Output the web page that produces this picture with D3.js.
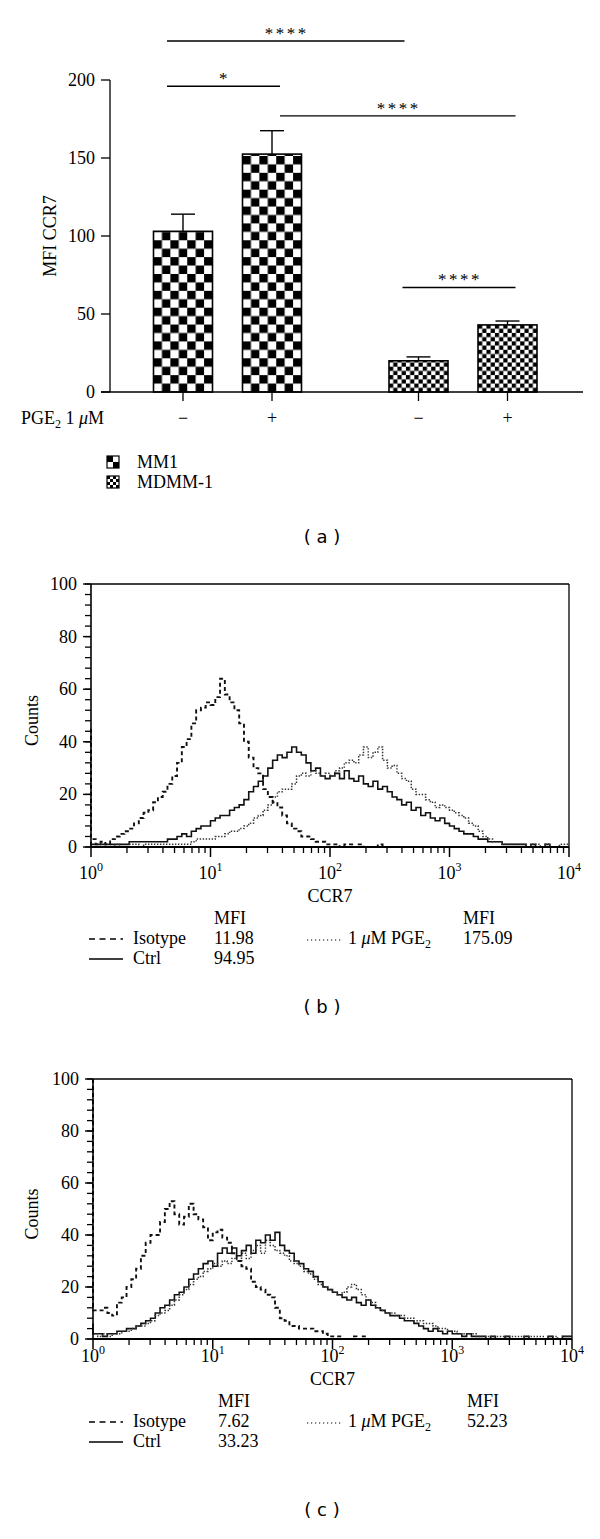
<!DOCTYPE html>
<html><head><meta charset="utf-8">
<script src="https://cdn.jsdelivr.net/npm/d3@7"></script>
<style>
body{margin:0;background:#fff}
text{font-family:"Liberation Serif","Times New Roman",serif;fill:#000}
.sans{font-family:"DejaVu Sans","Liberation Sans",sans-serif}
</style>
</head><body>
<svg id="chart" width="600" height="1539"></svg>
<script>
// ---------------- DATA ----------------
// Panel (a)
const barGroups = ["MM1", "MM1", "MDMM-1", "MDMM-1"];
const pgeLabels = ["−", "+", "−", "+"];
const barMeans = [103, 152.5, 20, 43];
const barErrors = [11, 15, 2.5, 2.5];
const barTicks = [0, 50, 100, 150, 200];
const legendGroups = ["MM1", "MDMM-1"];
// significance brackets: [from bar, to bar, label, level (MFI units)]
const sigFrom = [0, 0, 1, 2];
const sigTo = [2, 1, 3, 3];
const sigText = ["****", "*", "****", "****"];
const sigLevel = [225, 196, 177, 67];

// Panels (b) and (c): histogram channels, in decades of CCR7 (10^0 .. 10^4)
const decadeTicks = [0, 1, 2, 3, 4];
const countTicks = [0, 20, 40, 60, 80, 100];
const histLegendNames = ["Isotype", "Ctrl", "1 µM PGE2"];
const mfiB = ["11.98", "94.95", "175.09"];
const mfiC = ["7.62", "33.23", "52.23"];

const isoB = [45,3,1,2,1,3,4,5,6,7,9,11,13,14,17,19,21,24,27,32,38,41,47,52,53,55,54,57,64,58,55,52,47,40,34,30,28,22,19,17,15,12,9,7,6,4,4,3,2,2,1,1,1,0,1,1,0,1,0,0,0,1,0,0,0,0,0,0,0,0,0,0,0,0,0,0,0,0,0,0,0,0,0,0,0,0,0,0,0,0,0,0,0,0,0,0,0,0,0,0,0];
const ctrlB = [2,1,1,1,1,1,1,1,1,2,2,2,2,2,2,2,2,3,3,4,5,4,6,7,8,8,10,11,12,12,14,15,16,18,21,23,25,27,30,33,35,34,36,38,36,35,32,29,30,27,26,27,28,26,29,26,25,27,24,23,25,22,23,21,19,18,16,17,14,15,12,13,11,10,11,9,8,7,6,5,5,4,3,3,2,2,2,1,1,1,1,1,0,1,0,0,1,0,0,0,0];
const pgeB = [1,0,0,1,0,0,1,0,0,1,1,0,1,1,1,1,1,1,1,1,1,1,2,3,3,3,3,4,4,5,6,6,7,8,9,11,12,14,16,19,21,22,22,24,27,28,27,29,28,27,28,27,29,30,32,33,32,35,38,34,36,38,33,30,31,28,26,25,22,20,20,18,17,15,16,15,14,13,12,11,9,8,6,4,3,2,2,1,1,1,1,1,0,1,1,0,1,0,0,1,1];

const isoC = [100,11,11,12,10,9,14,16,20,23,27,32,37,40,40,45,50,53,48,44,47,52,48,46,43,38,41,42,39,37,33,30,28,27,22,20,19,17,16,12,8,7,5,5,4,4,4,3,3,2,1,1,1,0,0,1,0,1,0,0,0,0,0,0,0,0,0,0,0,0,0,0,0,0,0,0,0,0,0,0,0,0,0,0,0,0,0,0,0,0,0,0,0,0,0,0,0,0,0,0,0];
const ctrlC = [6,2,2,1,2,2,3,3,4,4,5,6,7,8,10,12,13,15,17,18,20,23,25,27,29,30,28,33,35,33,35,32,34,36,33,38,37,40,38,41,36,34,33,30,29,27,26,24,22,20,19,18,17,16,15,16,14,13,15,13,12,11,10,9,9,8,7,7,6,5,4,3,4,3,2,3,2,2,1,2,1,1,1,0,1,0,0,1,0,0,0,1,0,0,0,0,1,0,0,1,1];
const pgeC = [3,2,1,2,1,2,2,3,3,4,5,5,6,7,9,10,11,13,15,17,19,21,23,24,26,27,29,28,30,29,31,30,33,31,34,36,33,38,36,34,33,32,30,29,28,26,25,23,21,20,19,18,17,18,20,21,19,17,15,14,12,11,10,10,9,9,8,8,7,7,6,6,5,4,4,3,3,2,2,2,2,1,1,1,1,1,1,1,1,1,1,0,1,1,1,0,1,1,0,1,1];

// ---------------- DRAW ----------------
const FS = 18;
const svg = d3.select("#chart");
const defs = svg.append("defs");

// ===== Panel (a) =====
const yA = d3.scaleLinear().domain([0, 200]).range([392, 80]);
const xGroup = d3.scalePoint().domain(legendGroups).range([227.5, 463]);
const xInner = d3.scalePoint().domain(["−", "+"]).range([-44.5, 44.5]);
const barW = 59;
const cx = i => xGroup(barGroups[i]) + xInner(pgeLabels[i]);
const cellSize = g => g === "MM1" ? 8.43 : 4.22;

const gA = svg.append("g");
barMeans.forEach((v, i) => {
  const s = cellSize(barGroups[i]);
  const p = defs.append("pattern").attr("id", "pat" + i)
    .attr("patternUnits", "userSpaceOnUse")
    .attr("x", cx(i) - barW / 2).attr("y", yA(0))
    .attr("width", 2 * s).attr("height", 2 * s);
  p.append("rect").attr("width", 2 * s).attr("height", 2 * s).attr("fill", "#fff");
  p.append("rect").attr("width", s).attr("height", s).attr("fill", "#000");
  p.append("rect").attr("x", s).attr("y", s).attr("width", s).attr("height", s).attr("fill", "#000");
});

gA.selectAll(".err").data(barMeans).join("g").each(function (v, i) {
  const g = d3.select(this);
  g.append("line").attr("x1", cx(i)).attr("x2", cx(i))
    .attr("y1", yA(v)).attr("y2", yA(v + barErrors[i])).attr("stroke", "#000").attr("stroke-width", 1.4);
  g.append("line").attr("x1", cx(i) - 12).attr("x2", cx(i) + 12)
    .attr("y1", yA(v + barErrors[i])).attr("y2", yA(v + barErrors[i])).attr("stroke", "#000").attr("stroke-width", 1.4);
});
gA.selectAll(".bar").data(barMeans).join("rect")
  .attr("x", (d, i) => cx(i) - barW / 2).attr("width", barW)
  .attr("y", d => yA(d)).attr("height", d => yA(0) - yA(d))
  .attr("fill", (d, i) => `url(#pat${i})`).attr("stroke", "#000").attr("stroke-width", 1.6);

// y axis
gA.append("line").attr("x1", 110).attr("x2", 110).attr("y1", yA(200)).attr("y2", yA(0)).attr("stroke", "#000").attr("stroke-width", 1.3);
gA.selectAll(".yt").data(barTicks).join("line")
  .attr("x1", 101).attr("x2", 110).attr("y1", d => yA(d)).attr("y2", d => yA(d)).attr("stroke", "#000").attr("stroke-width", 1.3);
gA.selectAll(".yl").data(barTicks).join("text")
  .attr("x", 95).attr("y", d => yA(d) + 6).attr("text-anchor", "end").attr("font-size", FS).text(d => d);
gA.append("text").attr("transform", `translate(56,${(yA(0) + yA(200)) / 2}) rotate(-90)`)
  .attr("text-anchor", "middle").attr("font-size", FS).text("MFI CCR7");
// x axis
gA.append("line").attr("x1", 101).attr("x2", 583).attr("y1", yA(0)).attr("y2", yA(0)).attr("stroke", "#000").attr("stroke-width", 1.3);
gA.selectAll(".xt").data(barMeans).join("line")
  .attr("x1", (d, i) => cx(i)).attr("x2", (d, i) => cx(i)).attr("y1", yA(0)).attr("y2", yA(0) + 9).attr("stroke", "#000").attr("stroke-width", 1.3);
gA.selectAll(".xl").data(pgeLabels).join("text")
  .attr("x", (d, i) => cx(i)).attr("y", 424).attr("text-anchor", "middle").attr("font-size", FS).text(d => d);
const pgeT = gA.append("text").attr("x", 21).attr("y", 424).attr("font-size", FS);
pgeT.append("tspan").text("PGE");
pgeT.append("tspan").attr("font-size", 12).attr("dy", 4).text("2");
pgeT.append("tspan").attr("dy", -4).text(" 1 ");
pgeT.append("tspan").attr("font-style", "italic").text("μ");
pgeT.append("tspan").text("M");

// significance
sigText.forEach((t, k) => {
  const x1 = cx(sigFrom[k]) + (pgeLabels[sigFrom[k]] === "−" ? -16 : 8);
  const x2 = cx(sigTo[k]) + (pgeLabels[sigTo[k]] === "+" ? 8 : -14);
  const y = yA(sigLevel[k]);
  gA.append("line").attr("x1", x1).attr("x2", x2).attr("y1", y).attr("y2", y).attr("stroke", "#000").attr("stroke-width", 1.3);
  gA.append("text").attr("x", (x1 + x2) / 2 + 1).attr("y", y - 2).attr("text-anchor", "middle")
    .attr("font-size", 17).attr("letter-spacing", 2.5).text(t);
});

// legend (a)
legendGroups.forEach((g, k) => {
  const y0 = 456 + k * 20;
  const s = g === "MM1" ? 6 : 3;
  const pid = "leg" + k;
  const p = defs.append("pattern").attr("id", pid).attr("patternUnits", "userSpaceOnUse")
    .attr("x", 107).attr("y", y0).attr("width", 2 * s).attr("height", 2 * s);
  p.append("rect").attr("width", 2 * s).attr("height", 2 * s).attr("fill", "#fff");
  p.append("rect").attr("width", s).attr("height", s).attr("fill", "#000");
  p.append("rect").attr("x", s).attr("y", s).attr("width", s).attr("height", s).attr("fill", "#000");
  gA.append("rect").attr("x", 107).attr("y", y0).attr("width", 12).attr("height", 12)
    .attr("fill", `url(#${pid})`).attr("stroke", "#000").attr("stroke-width", 1.2);
  gA.append("text").attr("x", 137).attr("y", y0 + 12).attr("font-size", FS).text(g);
});
svg.append("text").attr("class", "sans").attr("x", 322).attr("y", 543).attr("text-anchor", "middle")
  .attr("font-size", 18).text("( a )");

// ===== Histogram panels =====
const channels = d3.range(isoB.length).map(i => i * 4 / (isoB.length - 1));

function histPanel(opt) {
  const g = svg.append("g");
  const x = d3.scaleLog().domain([1, 1e4]).range([opt.left, opt.right]);
  const y = d3.scaleLinear().domain([0, 100]).range([opt.bottom, opt.top]);
  const line = d3.line().x(d => x(Math.pow(10, d[0]))).y(d => y(d[1])).curve(d3.curveStepBefore);

  const series = [
    { vals: opt.ctrl, dash: null, w: 1.6, col: "#111" },
    { vals: opt.pge, dash: "1.4,1.6", w: 1.5, col: "#333" },
    { vals: opt.iso, dash: "4,3", w: 1.9, col: "#111" }
  ];
  series.forEach(s => {
    g.append("path").datum(channels.map((c, i) => [c, s.vals[i]]))
      .attr("d", line).attr("fill", "none").attr("stroke", s.col)
      .attr("stroke-width", s.w).attr("stroke-dasharray", s.dash);
  });

  // frame
  g.append("line").attr("x1", opt.left).attr("x2", opt.right).attr("y1", opt.top).attr("y2", opt.top).attr("stroke", "#000").attr("stroke-width", 1.3);
  g.append("line").attr("x1", opt.right).attr("x2", opt.right).attr("y1", opt.top).attr("y2", opt.bottom).attr("stroke", "#000").attr("stroke-width", 1.3);
  g.append("line").attr("x1", opt.left).attr("x2", opt.left).attr("y1", opt.top).attr("y2", opt.bottom).attr("stroke", "#000").attr("stroke-width", 1.6);
  g.append("line").attr("x1", opt.left).attr("x2", opt.right).attr("y1", opt.bottom).attr("y2", opt.bottom).attr("stroke", "#000").attr("stroke-width", 1.8);

  // y ticks
  const minorY = d3.range(0, 101, 4);
  g.selectAll(".ym").data(minorY).join("line")
    .attr("x1", opt.left - 6).attr("x2", opt.left).attr("y1", d => y(d)).attr("y2", d => y(d)).attr("stroke", "#000").attr("stroke-width", 1.3);
  g.selectAll(".yM").data(countTicks).join("line")
    .attr("x1", opt.left - 8).attr("x2", opt.left).attr("y1", d => y(d)).attr("y2", d => y(d)).attr("stroke", "#000").attr("stroke-width", 1.4);
  g.selectAll(".yl").data(countTicks).join("text")
    .attr("x", opt.left - 14).attr("y", d => y(d) + 6).attr("text-anchor", "end").attr("font-size", FS).text(d => d);
  g.append("text").attr("transform", `translate(38,${(opt.top + opt.bottom) / 2 + 5}) rotate(-90)`)
    .attr("text-anchor", "middle").attr("font-size", FS).text("Counts");

  // x ticks
  const minorX = [];
  for (let dcd = 0; dcd < 4; dcd++) for (let m = 2; m <= 9; m++) minorX.push(m * Math.pow(10, dcd));
  g.selectAll(".xm").data(minorX).join("line")
    .attr("x1", d => x(d)).attr("x2", d => x(d)).attr("y1", opt.bottom).attr("y2", opt.bottom + 6).attr("stroke", "#000").attr("stroke-width", 1.3);
  g.selectAll(".xM").data(decadeTicks).join("line")
    .attr("x1", d => x(Math.pow(10, d))).attr("x2", d => x(Math.pow(10, d)))
    .attr("y1", opt.bottom).attr("y2", opt.bottom + 10).attr("stroke", "#000").attr("stroke-width", 1.5);
  const t0 = opt.bottom + opt.shift;
  const xl = g.selectAll(".xl").data(decadeTicks).join("text")
    .attr("x", d => x(Math.pow(10, d))).attr("y", t0 + 32).attr("text-anchor", "middle").attr("font-size", FS);
  xl.append("tspan").text("10");
  xl.append("tspan").attr("dy", -8).attr("font-size", 12).text(d => d);
  g.append("text").attr("x", x(100)).attr("y", t0 + 55).attr("text-anchor", "middle").attr("font-size", FS).text("CCR7");

  // legend
  const ly = t0 + 77;
  g.append("text").attr("x", opt.mfiX1).attr("y", ly).attr("font-size", FS).text("MFI");
  g.append("text").attr("x", opt.mfiX2).attr("y", ly).attr("font-size", FS).text("MFI");
  g.append("line").attr("x1", 89).attr("x2", 123).attr("y1", ly + 15).attr("y2", ly + 15).attr("stroke", "#000").attr("stroke-width", 1.3).attr("stroke-dasharray", "6,4.5");
  g.append("text").attr("x", 133).attr("y", ly + 20).attr("font-size", FS).text(histLegendNames[0]);
  g.append("text").attr("x", opt.mfiX1).attr("y", ly + 20).attr("font-size", FS).text(opt.mfi[0]);
  g.append("line").attr("x1", 89).attr("x2", 123).attr("y1", ly + 35).attr("y2", ly + 35).attr("stroke", "#000").attr("stroke-width", 1.3);
  g.append("text").attr("x", 133).attr("y", ly + 40).attr("font-size", FS).text(histLegendNames[1]);
  g.append("text").attr("x", opt.mfiX1).attr("y", ly + 40).attr("font-size", FS).text(opt.mfi[1]);
  g.append("line").attr("x1", 307).attr("x2", 343).attr("y1", ly + 16).attr("y2", ly + 16).attr("stroke", "#000").attr("stroke-width", 1.2).attr("stroke-dasharray", "1.2,2.8");
  const pt = g.append("text").attr("x", 348).attr("y", ly + 20).attr("font-size", FS);
  pt.append("tspan").text("1 ");
  pt.append("tspan").attr("font-style", "italic").text("μ");
  pt.append("tspan").text("M PGE");
  pt.append("tspan").attr("font-size", 12).attr("dy", 4).text("2");
  g.append("text").attr("x", opt.mfiX2).attr("y", ly + 20).attr("font-size", FS).text(opt.mfi[2]);

  svg.append("text").attr("class", "sans").attr("x", 322).attr("y", opt.capY).attr("text-anchor", "middle")
    .attr("font-size", 18).text(opt.cap);
}

histPanel({ left: 91, right: 569, top: 584, bottom: 847, shift: 0, iso: isoB, ctrl: ctrlB, pge: pgeB,
  mfi: mfiB, mfiX1: 214, mfiX2: 463, cap: "( b )", capY: 1013 });
histPanel({ left: 93, right: 572, top: 1079, bottom: 1339, shift: -9, iso: isoC, ctrl: ctrlC, pge: pgeC,
  mfi: mfiC, mfiX1: 218, mfiX2: 467, cap: "( c )", capY: 1516 });
</script>
</body></html>
